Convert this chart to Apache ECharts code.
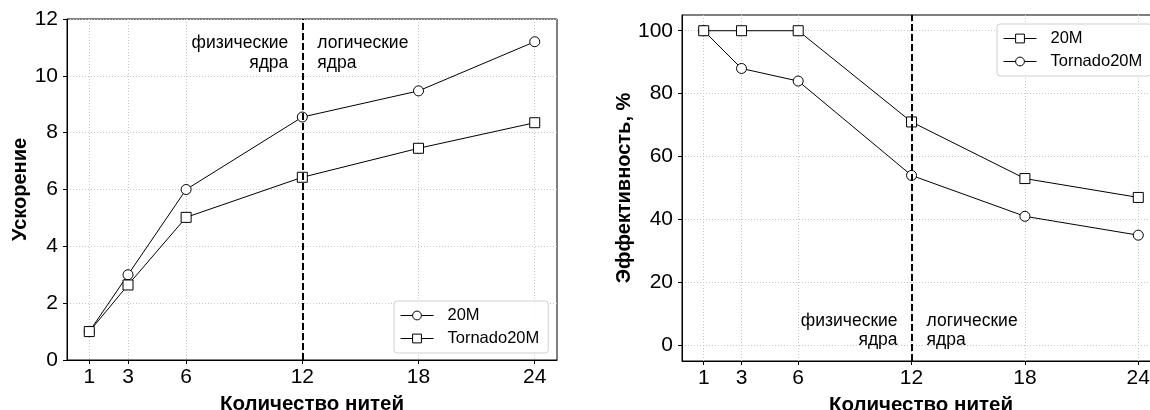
<!DOCTYPE html>
<html>
<head>
<meta charset="utf-8">
<script src="https://cdn.jsdelivr.net/npm/echarts@6/dist/echarts.min.js"></script>
<style>
html,body{margin:0;padding:0;background:#fff;}
#c{width:1150px;height:410px;}
</style>
</head>
<body>
<div id="c"></div>
<script>
// ---- data ----
const threads = [1, 3, 6, 12, 18, 24];
const speedup20M = [1, 3.0, 6.0, 8.55, 9.47, 11.2];
const speedupTornado = [1, 2.64, 5.02, 6.43, 7.45, 8.35];
const eff20M = [100, 100, 100, 71, 53, 47];
const effTornado = [100, 88, 84, 54, 41, 35];
const speedupTicks = [0, 2, 4, 6, 8, 10, 12];
const effTicks = [0, 20, 40, 60, 80, 100];
const coreBoundary = 12;
const labelPhysical = 'физические\nядра';
const labelLogical = 'логические\nядра';

const FONT = 'Liberation Sans, Arial, sans-serif';
const pts = arr => threads.map((t, i) => [t, arr[i]]);

function xAxisCfg(gridIndex) {
  return {
    type: 'value', gridIndex, min: -0.15, max: 25.15,
    name: 'Количество нитей', nameLocation: 'middle', nameGap: 34,
    nameTextStyle: {fontFamily: FONT, fontSize: 20.5, fontWeight: 'bold', color: '#000'},
    axisLine: {show: true, onZero: false, lineStyle: {color: '#000', width: 1}},
    axisTick: {show: true, inside: false, length: 4, lineStyle: {color: '#000'}, customValues: threads},
    axisLabel: {fontFamily: FONT, fontSize: 21, color: '#000', margin: 7, customValues: threads},
    splitLine: {show: true, lineStyle: {color: '#c8c8c8', type: [1, 2], width: 1}}
  };
}
function yAxisCfg(gridIndex, name, min, max, ticks, gap) {
  return {
    type: 'value', gridIndex, min, max,
    name, nameLocation: 'middle', nameGap: gap,
    nameTextStyle: {fontFamily: FONT, fontSize: 20, fontWeight: 'bold', color: '#000'},
    axisLine: {show: true, onZero: false, lineStyle: {color: '#000', width: 1}},
    axisTick: {show: true, inside: false, length: 4, lineStyle: {color: '#000'}, customValues: ticks},
    axisLabel: {fontFamily: FONT, fontSize: 21, color: '#000', margin: 9, customValues: ticks},
    splitLine: {show: true, lineStyle: {color: '#c8c8c8', type: [1, 2], width: 1}}
  };
}
function lineSeries(name, idx, data, symbol, withMark) {
  const s = {
    name, type: 'line', xAxisIndex: idx, yAxisIndex: idx, data,
    symbol, symbolSize: 10, showAllSymbol: true,
    lineStyle: {color: '#000', width: 1},
    itemStyle: {color: '#fff', borderColor: '#000', borderWidth: 1},
    emphasis: {disabled: true}, z: 3
  };
  if (withMark) {
    s.markLine = {
      silent: true, symbol: 'none', animation: false,
      label: {show: false},
      lineStyle: {color: '#000', width: 2, type: [7, 3]},
      data: [{xAxis: coreBoundary}]
    };
  }
  return s;
}
function legendCfg(left, top, names) {
  return {
    orient: 'vertical', left, top, data: names,
    formatter: n => n.slice(2),
    backgroundColor: 'rgba(255,255,255,0.85)', borderColor: '#d0d0d0', borderWidth: 1, borderRadius: 3,
    padding: [6, 9, 6, 6], itemGap: 6, itemWidth: 33, itemHeight: 11,
    lineStyle: {width: 1, color: '#000'},
    itemStyle: {color: '#fff', borderColor: '#000', borderWidth: 1},
    textStyle: {fontFamily: FONT, fontSize: 16.5, color: '#000', padding: [0, 0, 0, 9], lineHeight: 17},
    selectedMode: false
  };
}
const gridBase = {show: true, borderColor: '#000', borderWidth: 1, backgroundColor: 'transparent',
  containLabel: false, outerBoundsMode: 'none'};

const chart = echarts.init(document.getElementById('c'), null, {renderer: 'canvas'});
chart.setOption({
  animation: false,
  backgroundColor: '#fff',
  grid: [
    Object.assign({left: 67, top: 19, width: 490, height: 341}, gridBase),
    Object.assign({left: 682, top: 15, width: 478, height: 346}, gridBase)
  ],
  xAxis: [xAxisCfg(0), xAxisCfg(1)],
  yAxis: [
    yAxisCfg(0, 'Ускорение', 0, 12, speedupTicks, 36),
    yAxisCfg(1, 'Эффективность, %', -5, 105, effTicks, 48)
  ],
  legend: [
    legendCfg(394, 301, ['L:20M', 'L:Tornado20M']),
    legendCfg(997, 24, ['R:20M', 'R:Tornado20M'])
  ],
  series: [
    lineSeries('L:20M', 0, pts(speedup20M), 'circle', true),
    lineSeries('L:Tornado20M', 0, pts(speedupTornado), 'rect', false),
    lineSeries('R:Tornado20M', 1, pts(effTornado), 'circle', true),
    lineSeries('R:20M', 1, pts(eff20M), 'rect', false)
  ]
});

// annotations placed relative to the dashed boundary line
const xL = chart.convertToPixel({xAxisIndex: 0}, coreBoundary);
const xR = chart.convertToPixel({xAxisIndex: 1}, coreBoundary);
const txt = (x, y, text, align, lh) => ({
  type: 'text', x, y, silent: true,
  style: {text, fontFamily: FONT, fontSize: 17.5, fill: '#000', align, verticalAlign: 'top', lineHeight: lh}
});
chart.setOption({
  graphic: [
    txt(xL - 14, 33, labelPhysical, 'right', 20),
    txt(xL + 15, 33, labelLogical, 'left', 20),
    txt(xR - 14, 312, labelPhysical, 'right', 19),
    txt(xR + 15, 312, labelLogical, 'left', 19)
  ]
});
</script>
</body>
</html>
